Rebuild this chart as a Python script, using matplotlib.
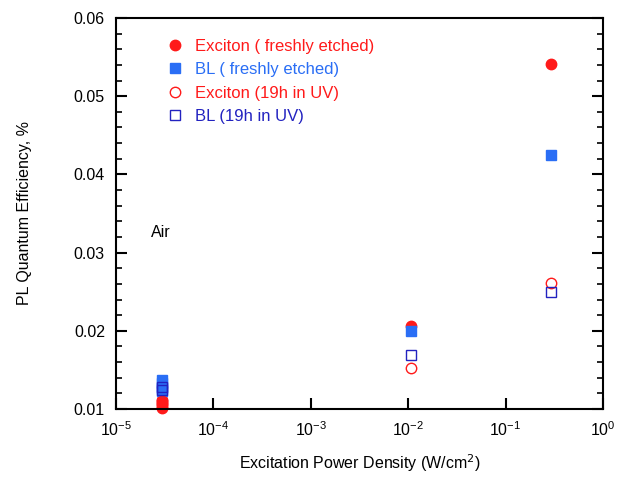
import matplotlib
matplotlib.use("Agg")
import matplotlib.pyplot as plt
from matplotlib.ticker import MultipleLocator, LogLocator, NullLocator

plt.rcParams['font.family'] = ['Liberation Sans', 'DejaVu Sans']

# excitation power density, W/cm^2
x_low = [3e-5, 3e-5, 3e-5, 3e-5]
x_hi = [1.07e-2, 0.29]

exc_fresh_low = [0.0112, 0.0108, 0.0104, 0.0101]
exc_fresh_hi = [0.0206, 0.0541]
bl_fresh_low = [0.0137, 0.0133, 0.0127, 0.0123]
bl_fresh_hi = [0.0200, 0.0425]
exc_uv_low = [0.0110, 0.0106]
exc_uv_hi = [0.0152, 0.0261]
bl_uv_low = [0.0128, 0.0124]
bl_uv_hi = [0.0169, 0.0250]

labels = ["Exciton ( freshly etched)", "BL ( freshly etched)",
          "Exciton (19h in UV)", "BL (19h in UV)"]

red = "#ff1a1a"
blue = "#2a6ef5"
dblue = "#2222c0"

fig = plt.figure(figsize=(6.18, 4.78), dpi=100)
ax = fig.add_axes([0.1877, 0.1444, 0.788, 0.8179])

ax.plot(x_low + x_hi, exc_fresh_low + exc_fresh_hi, 'o', color=red, ms=7.5, mec=red,
        label=labels[0], clip_on=False)
ax.plot(x_low + x_hi, bl_fresh_low + bl_fresh_hi, 's', color=blue, ms=7, mec=blue,
        label=labels[1], clip_on=False)
ax.plot(x_low[:2] + x_hi, exc_uv_low + exc_uv_hi, 'o', mfc='none', mec=red, ms=7.5, mew=1,
        label=labels[2], clip_on=False)
ax.plot(x_low[:2] + x_hi, bl_uv_low + bl_uv_hi, 's', mfc='none', mec=dblue, ms=7.5, mew=1,
        label=labels[3], clip_on=False)

ax.set_xscale('log')
ax.set_xlim(1e-5, 1)
ax.set_ylim(0.01, 0.06)
ax.xaxis.set_major_locator(LogLocator(base=10, numticks=10))
ax.xaxis.set_minor_locator(NullLocator())
ax.yaxis.set_major_locator(MultipleLocator(0.01))
ax.yaxis.set_minor_locator(MultipleLocator(0.002))
ax.yaxis.set_major_formatter(plt.FuncFormatter(lambda v, p: f"{v:.2f}"))

ax.tick_params(axis='both', which='both', direction='in', labelsize=11.5, top=False)
ax.tick_params(axis='y', which='both', right=True)
ax.tick_params(which='major', length=8, width=1.5)
ax.tick_params(which='minor', length=4, width=1.2)
ax.tick_params(axis='x', pad=8)
ax.tick_params(axis='y', pad=8)
for s in ax.spines.values():
    s.set_linewidth(1.5)

ax.set_xlabel("Excitation Power Density (W/cm$^2$)", fontsize=11.5, labelpad=10)
ax.set_ylabel("PL Quantum Efficiency, %", fontsize=11.5, labelpad=30)

ax.text(2.3e-5, 0.0326, "Air", fontsize=11.5, va='center')

leg = ax.legend(loc='upper left', bbox_to_anchor=(0.07, 0.985), frameon=False,
                fontsize=12, handletextpad=0.6, labelspacing=0.5, handlelength=1.2)
for t, c in zip(leg.get_texts(), [red, blue, red, dblue]):
    t.set_color(c)

fig.savefig("out.png", dpi=100)
